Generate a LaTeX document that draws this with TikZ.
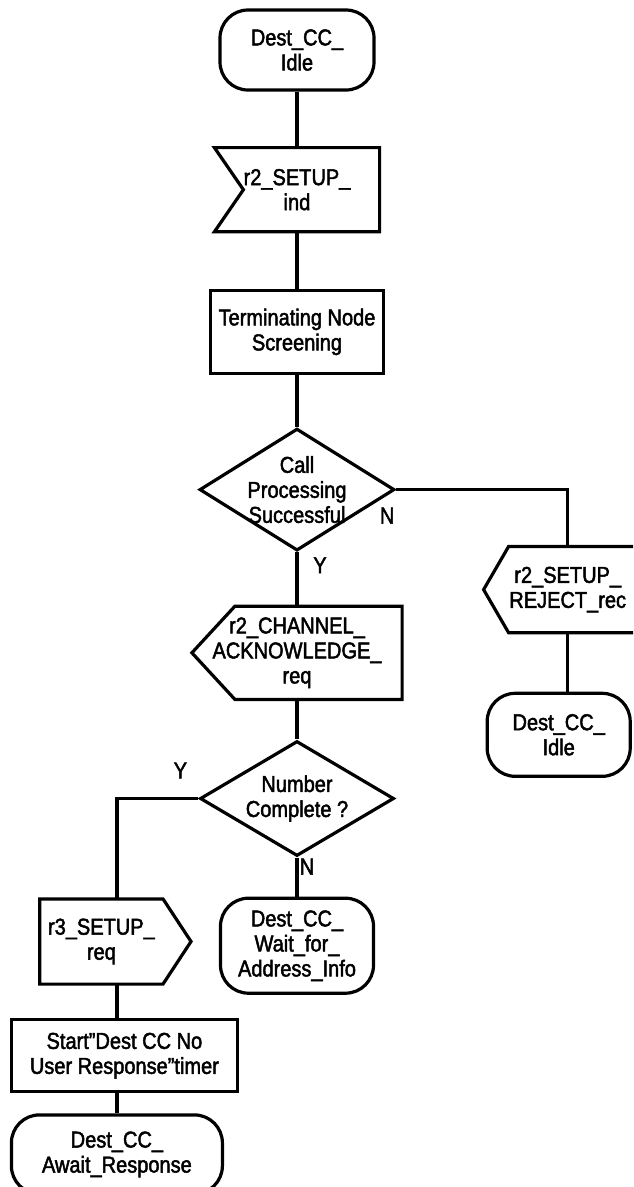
\documentclass[tikz,border=0pt]{standalone}
\usepackage{fontspec}
\setmainfont[FakeStretch=0.87,FakeBold=2]{Liberation Sans}
\usetikzlibrary{shapes.geometric,calc,positioning}
\tikzset{
        term/.style = {draw, rectangle, rounded corners=28pt,
            align=center, inner sep=0pt},
        proc/.style = {draw, rectangle, align=center, inner sep=0pt},
        decision/.style = {draw, diamond, aspect=1.6,
            inner sep=-20pt, align=center},
        sig/.style = {rectangle, align=center, inner sep=0pt},
        lbl/.style = {inner sep=0pt},
    }
% signal symbols: a plain node, its outline drawn round it afterwards
\newcommand\insig[2]{\draw (#1.north west) -- ([xshift=#2]#1.west)
    -- (#1.south west) -- (#1.south east) -- (#1.north east) -- cycle;}
\newcommand\outsigleft[2]{\draw ([xshift=#2]#1.north west) -- (#1.north east)
    -- (#1.south east) -- ([xshift=#2]#1.south west) -- (#1.west) -- cycle;}
\newcommand\outsigright[2]{\draw (#1.north west) -- (#1.north east)
    -- ([xshift=#2]#1.east) -- (#1.south east) -- (#1.south west) -- cycle;}

\begin{document}
\begin{tikzpicture}[x=1pt, y=1pt, line width=3.2pt,
        font=\fontsize{23}{25}\selectfont]
    \useasboundingbox (0,0) rectangle (633,-1187);
    \clip (0,0) rectangle (633,-1187);

    % main column
    \node[term, minimum width=154pt, minimum height=80pt] (idle) at (297,-50) {Dest\_CC\_\\Idle};
    \node[sig, below=56pt of idle, minimum width=162pt, minimum height=81pt] (setupind) {r2\_SETUP\_\\ind};
    \node[proc, below=57pt of setupind, minimum width=173pt, minimum height=83pt] (screen) {Terminating Node\\Screening};
    \node[decision, below=52pt of screen, minimum width=195pt, minimum height=122pt] (callok) {Call\\Processing\\Successful};
    \node[sig, below=54pt of callok, minimum width=207pt, minimum height=90pt] (chanack) {r2\_CHANNEL\_\\ACKNOWLEDGE\_\\req};
    \node[decision, below=40pt of chanack, minimum width=194pt, minimum height=115pt] (numok) {Number\\Complete ?};
    \node[term, below=39pt of numok, minimum width=153pt, minimum height=95pt] (waitaddr) {Dest\_CC\_\\Wait\_for\_\\Address\_Info};

    % reject branch
    \node[sig, minimum width=165pt, minimum height=83pt] (reject) at ($(callok.east)+(171.6,-100)$) {r2\_SETUP\_\\REJECT\_rec};
    \node[term, below=59pt of reject, xshift=-9pt, minimum width=143pt, minimum height=83pt] (idleb) {Dest\_CC\_\\Idle};

    % number complete branch
    \node[sig, minimum width=120pt, minimum height=82pt] (r3setup) at ($(numok.west)+(-97,-143)$) {r3\_SETUP\_\\req};
    \node[proc, below=34pt of r3setup, xshift=23pt, minimum width=226pt, minimum height=72pt] (timer) {Start"Dest CC No\\User Response"timer};
    \node[term, below=20pt of timer, xshift=-7.5pt, minimum width=211pt, minimum height=79pt] (await) {Dest\_CC\_\\Await\_Response};

    \insig{setupind}{29pt}
    \outsigleft{chanack}{43pt}
    \outsigleft{reject}{25pt}
    \outsigright{r3setup}{28pt}

    \draw (idle.south) -- (setupind.north);
    \draw (setupind.south) -- (screen.north);
    \draw (screen.south) -- (callok.north);
    \draw (callok.south) node[lbl, xshift=23pt, yshift=-13pt] {Y} -- (chanack.north);
    \draw (callok.east) node[lbl, xshift=-9pt, yshift=-26pt] {N} -| (reject.north);
    \draw (reject.south) -- (reject.south |- idleb.north);
    \draw (chanack.south) -- (numok.north);
    \draw (numok.south) node[lbl, xshift=10pt, yshift=-9pt] {N} -- (waitaddr.north);
    \draw (numok.west) node[lbl, xshift=-18pt, yshift=28pt] {Y} -| (await.north |- r3setup.north);
    \draw (await.north |- r3setup.south) -- (await.north |- timer.north);
    \draw (await.north |- timer.south) -- (await.north);
\end{tikzpicture}
\end{document}
